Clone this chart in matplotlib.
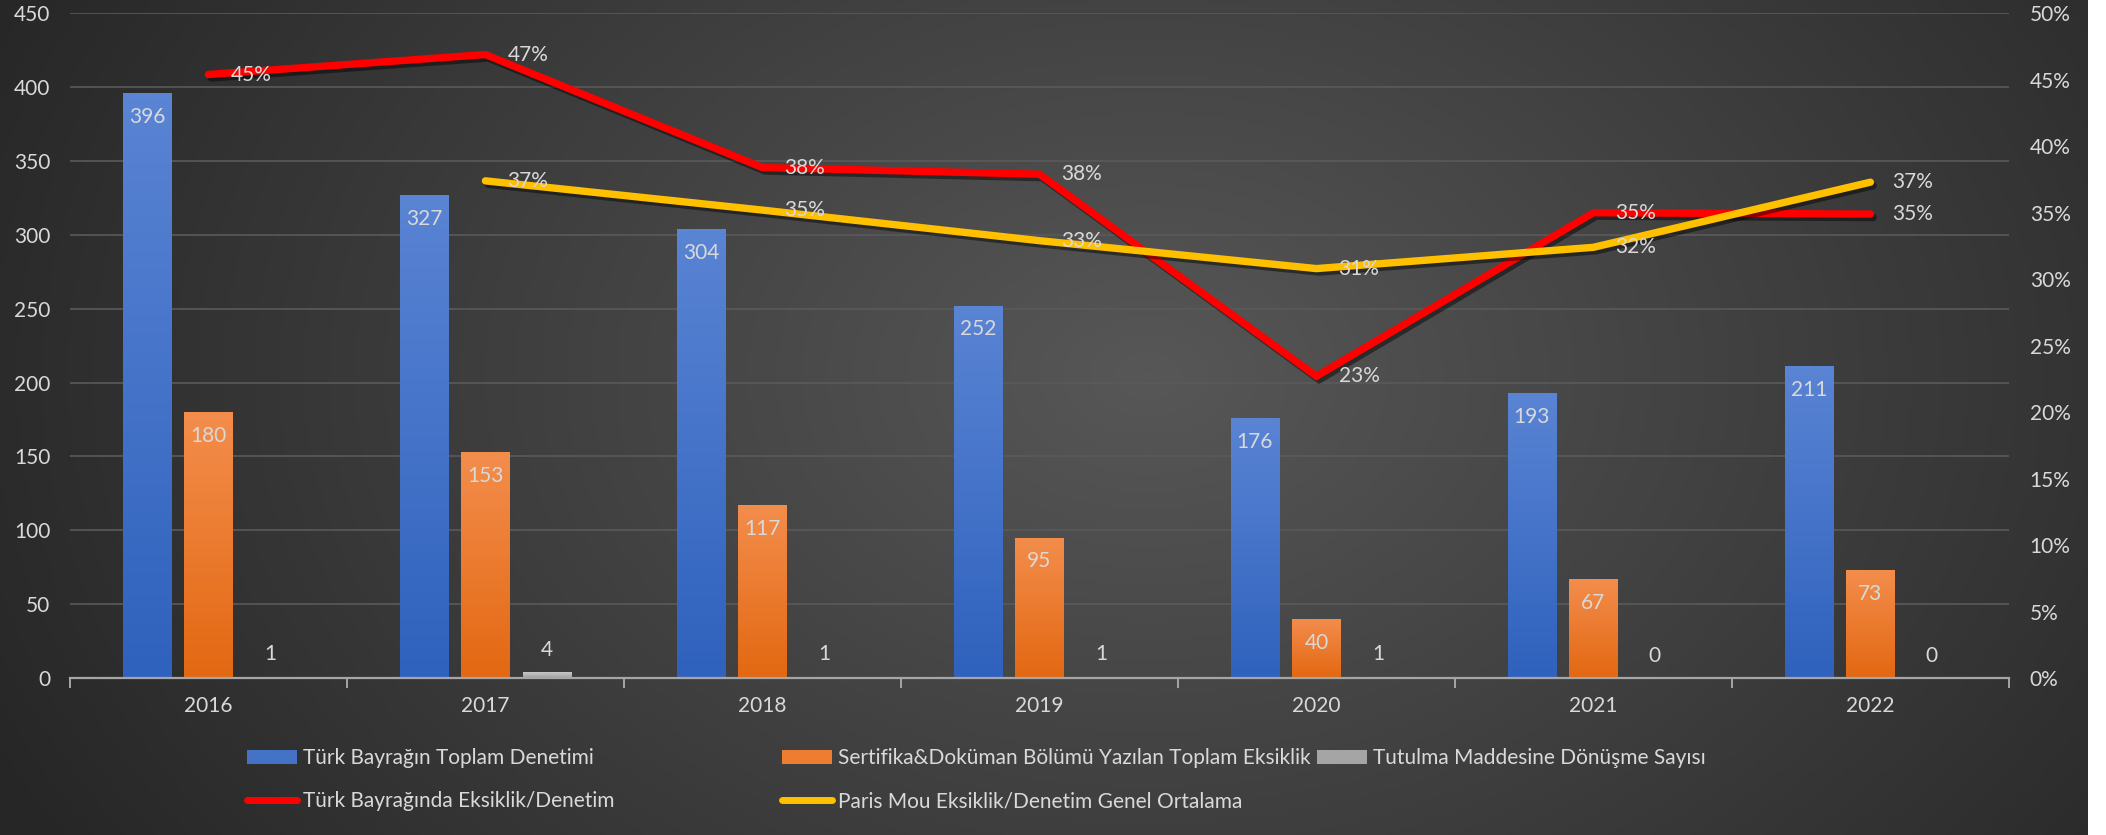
import numpy as np
import matplotlib
matplotlib.use("Agg")
import matplotlib.pyplot as plt
import matplotlib.patheffects as pe
from matplotlib.colors import LinearSegmentedColormap
from matplotlib.lines import Line2D
from matplotlib.patches import Patch

plt.rcParams['font.family'] = ['Lato', 'DejaVu Sans']

years = ['2016', '2017', '2018', '2019', '2020', '2021', '2022']
toplam_denetim = [396, 327, 304, 252, 176, 193, 211]
toplam_eksiklik = [180, 153, 117, 95, 40, 67, 73]
tutulma = [1, 4, 1, 1, 1, 0, 0]
tr_oran = [45.4, 46.9, 38.4, 37.9, 22.7, 35.0, 34.9]
paris_oran = [np.nan, 37.4, 35.2, 32.9, 30.8, 32.4, 37.3]

txt = '#d9d9d9'
fs = 15

fig = plt.figure(figsize=(21.06, 8.35), dpi=100)
fig.patch.set_facecolor('white')

# dark radial background (chart area ends before the white strip at the right)
bg = fig.add_axes([0, 0, 0.991, 1], zorder=-10)
gx, gy = np.meshgrid(np.linspace(0, 1, 500), np.linspace(0, 1, 200))
d = np.sqrt(((gx - 0.55) / 0.62) ** 2 + ((gy - 0.55) / 1.1) ** 2)
d = np.clip(d, 0, 1)
bg_cmap = LinearSegmentedColormap.from_list('bg', ['#575757', '#262626'])
bg.imshow(d, cmap=bg_cmap, aspect='auto', extent=[0, 1, 0, 1], origin='lower')
bg.axis('off')

ax = fig.add_axes([0.0332, 0.188, 0.9207, 0.796])
ax.set_facecolor('none')
x = np.arange(len(years))
w = 0.175
off = 0.222


def gradient_bars(bars, c_top, c_bot):
    cm = LinearSegmentedColormap.from_list('g', [c_bot, c_top])
    grad = np.linspace(0, 1, 100).reshape(-1, 1)
    for b in bars:
        bx, by = b.get_x(), b.get_y()
        bw, bh = b.get_width(), b.get_height()
        if bh <= 0:
            continue
        im = ax.imshow(grad, extent=[bx, bx + bw, by, by + bh], origin='lower',
                       aspect='auto', cmap=cm, zorder=2)
        im.set_clip_path(b)


b1 = ax.bar(x - off, toplam_denetim, w, color='#4472c4', zorder=2)
b2 = ax.bar(x, toplam_eksiklik, w, color='#ed7d31', zorder=2)
b3 = ax.bar(x + off, tutulma, w, color='#a5a5a5', zorder=2)
gradient_bars(b1, '#5a84d4', '#2f62bd')
gradient_bars(b2, '#f38d4c', '#e36812')
gradient_bars(b3, '#c8c8c8', '#a0a0a0')

for rect, v in zip(b1, toplam_denetim):
    ax.annotate(str(v), (rect.get_x() + w / 2, v), xytext=(0, -17), textcoords='offset points',
                ha='center', va='center', color=txt, fontsize=fs, zorder=5)
for rect, v in zip(b2, toplam_eksiklik):
    ax.annotate(str(v), (rect.get_x() + w / 2, v), xytext=(0, -17), textcoords='offset points',
                ha='center', va='center', color=txt, fontsize=fs, zorder=5)
for rect, v in zip(b3, tutulma):
    ax.annotate(str(v), (rect.get_x() + w / 2, v), xytext=(0, 16), textcoords='offset points',
                ha='center', va='center', color=txt, fontsize=fs, zorder=5)

ax.set_xlim(-0.5, len(years) - 0.5)
ax.set_ylim(0, 450)
ax.set_yticks(np.arange(0, 451, 50))
ax.yaxis.grid(True, color='#5a5a5a', linewidth=1.2)
ax.set_axisbelow(True)
for s in ['top', 'right', 'left']:
    ax.spines[s].set_visible(False)
ax.spines['bottom'].set_color('#a6a6a6')
ax.spines['bottom'].set_linewidth(1.6)
ax.spines['bottom'].set_zorder(4)
ax.set_xticks(x)
ax.set_xticklabels(years)
ax.set_xticks(np.arange(-0.5, len(years), 1), minor=True)
ax.tick_params(axis='x', which='major', length=0, pad=13, labelsize=fs, labelcolor=txt)
ax.tick_params(axis='x', which='minor', length=7, width=1.4, color='#a6a6a6', direction='out')
ax.tick_params(axis='y', length=0, pad=14, labelsize=fs, labelcolor=txt)

ax2 = ax.twinx()
ax2.set_ylim(0, 50)
ax2.set_yticks(np.arange(0, 51, 5))
ax2.set_yticklabels([f'{v}%' for v in range(0, 51, 5)])
ax2.tick_params(axis='y', length=0, pad=15, labelsize=fs, labelcolor=txt)
for s in ax2.spines.values():
    s.set_visible(False)

shadow = [pe.SimpleLineShadow(offset=(2, -2.5), shadow_color='black', alpha=0.45), pe.Normal()]
ax2.plot(x, tr_oran, color='#ff0000', lw=5.3, solid_capstyle='round', solid_joinstyle='miter',
         path_effects=shadow, zorder=3)
ax2.plot(x, paris_oran, color='#ffc000', lw=5.3, solid_capstyle='round', solid_joinstyle='miter',
         path_effects=shadow, zorder=3)
for xi, v in zip(x, tr_oran):
    ax2.annotate(f'{v:.0f}%', (xi, v), xytext=(16, 0), textcoords='offset points',
                 ha='left', va='center', color=txt, fontsize=fs, zorder=6)
for xi, v in zip(x, paris_oran):
    if np.isnan(v):
        continue
    ax2.annotate(f'{v:.0f}%', (xi, v), xytext=(16, 0), textcoords='offset points',
                 ha='left', va='center', color=txt, fontsize=fs, zorder=6)

# legend: equal-width columns like Excel, two rows
entries = [
    (Patch(facecolor='#4472c4'), 'Türk Bayrağın Toplam Denetimi', 0.1173, 0.0922),
    (Patch(facecolor='#ed7d31'), 'Sertifika&Doküman Bölümü Yazılan Toplam Eksiklik', 0.3713, 0.0922),
    (Patch(facecolor='#a5a5a5'), 'Tutulma Maddesine Dönüşme Sayısı', 0.6254, 0.0922),
    (Line2D([0], [0], color='#ff0000', lw=5, solid_capstyle='round'),
     'Türk Bayrağında Eksiklik/Denetim', 0.1173, 0.0407),
    (Line2D([0], [0], color='#ffc000', lw=5, solid_capstyle='round'),
     'Paris Mou Eksiklik/Denetim Genel Ortalama', 0.3713, 0.0407),
]
for h, lab, lx, ly in entries:
    fig.legend([h], [lab], loc='center left', bbox_to_anchor=(lx, ly), frameon=False,
               fontsize=fs, labelcolor=txt, handlelength=2.4, handleheight=0.68,
               handletextpad=0.28, borderpad=0, borderaxespad=0)

fig.savefig('out.png', dpi=100, facecolor='white')
